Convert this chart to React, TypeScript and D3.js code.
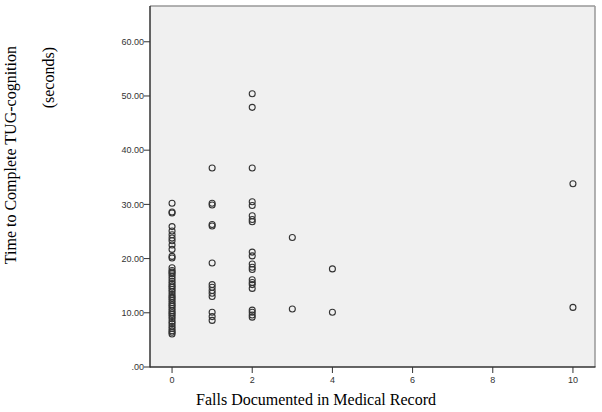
import React from "react";
import * as d3 from "d3";

const falls0 = [30.2, 28.6, 28.4, 25.9, 25.1, 24.4, 23.8, 23.3, 22.5, 21.7, 20.4, 20.1, 18.3, 17.8, 17.5, 17.2, 16.8, 16.3, 15.8, 15.4, 15.0, 14.7, 14.3, 13.9, 13.4, 13.0, 12.7, 12.3, 11.9, 11.5, 11.2, 10.8, 10.4, 10.0, 9.7, 9.3, 8.9, 8.4, 8.0, 7.5, 7.1, 6.7, 6.4, 6.1];
const falls1 = [36.7, 30.2, 29.9, 26.3, 26.0, 19.2, 15.2, 14.7, 14.1, 13.6, 13.0, 10.1, 9.3, 8.6];
const falls2 = [50.4, 47.9, 36.7, 30.5, 29.8, 27.9, 27.2, 26.8, 21.2, 20.5, 19.0, 18.4, 18.0, 16.1, 15.6, 15.2, 14.5, 10.5, 10.1, 9.6, 9.2];
const falls3 = [23.9, 10.7];
const falls4 = [18.1, 10.1];
const falls10 = [33.8, 11.0];

const groups: [number, number[]][] = [
  [0, falls0],
  [1, falls1],
  [2, falls2],
  [3, falls3],
  [4, falls4],
  [10, falls10],
];

const xTicks = [0, 2, 4, 6, 8, 10];
const yTicks = [0, 10, 20, 30, 40, 50, 60];

export default function App() {
  const left = 150, right = 595, top = 6, bottom = 367;
  const x = d3.scaleLinear().domain([-0.55, 10.55]).range([left, right]);
  const y = d3.scaleLinear().domain([0, 66.6]).range([bottom, top]);
  const fmt = (v: number) => (v === 0 ? ".00" : v.toFixed(2));
  const points = groups.flatMap(([fx, vals]) => vals.map((v) => ({ fx, v })));
  return (
    <svg width={602} height={412} style={{ position: "absolute", left: 0, top: 0, background: "#fff" }}>
      <rect x={left} y={top} width={right - left} height={bottom - top} fill="#f0f0f0" />
      <line x1={left} x2={right} y1={top} y2={top} stroke="#999" strokeWidth={1.5} />
      <line x1={right} x2={right} y1={top} y2={bottom} stroke="#999" strokeWidth={1.5} />
      <line x1={left} x2={left} y1={top} y2={bottom + 0.5} stroke="#333" strokeWidth={1.5} />
      <line x1={left} x2={right + 0.5} y1={bottom} y2={bottom} stroke="#333" strokeWidth={1.5} />
      {yTicks.map((t) => (
        <g key={"y" + t}>
          <line x1={left - 6} x2={left} y1={y(t)} y2={y(t)} stroke="#333" strokeWidth={1} />
          <text x={left - 6} y={y(t)} dy="0.35em" textAnchor="end" fontFamily="Liberation Sans, Arial, sans-serif" fontSize={9} fill="#333">
            {fmt(t)}
          </text>
        </g>
      ))}
      {xTicks.map((t) => (
        <g key={"x" + t}>
          <line x1={x(t)} x2={x(t)} y1={bottom} y2={bottom + 6} stroke="#333" strokeWidth={1} />
          <text x={x(t)} y={383} textAnchor="middle" fontFamily="Liberation Sans, Arial, sans-serif" fontSize={9} fill="#333">
            {t}
          </text>
        </g>
      ))}
      {points.map((p, i) => (
        <circle key={i} cx={x(p.fx)} cy={y(p.v)} r={3} fill="none" stroke="#333" strokeWidth={1.1} />
      ))}
      <text x={316} y={405} textAnchor="middle" fontFamily="Liberation Serif, Times New Roman, serif" fontSize={16} fill="#000">
        Falls Documented in Medical Record
      </text>
      <text transform="translate(16,46) rotate(-90)" textAnchor="end" fontFamily="Liberation Serif, Times New Roman, serif" fontSize={16} fill="#000">
        Time to Complete TUG-cognition
      </text>
      <text transform="translate(54,47) rotate(-90)" textAnchor="end" fontFamily="Liberation Serif, Times New Roman, serif" fontSize={16} fill="#000">
        (seconds)
      </text>
    </svg>
  );
}
